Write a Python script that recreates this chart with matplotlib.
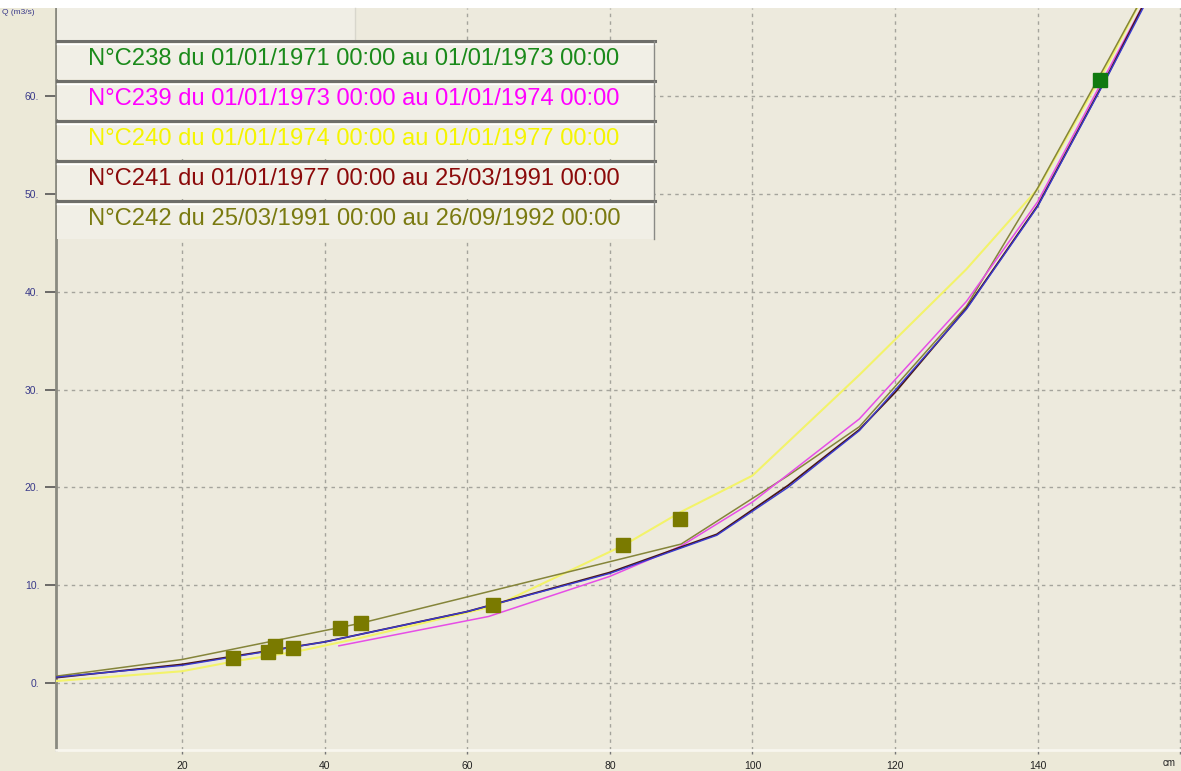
import matplotlib
matplotlib.use('Agg')
import matplotlib.pyplot as plt
from matplotlib.patches import Rectangle
from matplotlib.lines import Line2D

# rating curves: stage (cm) -> discharge Q (m3/s)
h_c238 = [2.4, 20, 40, 60, 80, 95, 105, 115, 130, 140, 150, 155.5]
q_c238 = [0.6, 1.8, 4.2, 7.3, 11.2, 15.1, 20.0, 25.8, 38.2, 48.7, 62.3, 70.0]

h_c239 = [42, 63, 80, 90, 100, 115, 130, 140, 150, 155.3]
q_c239 = [3.8, 6.8, 10.9, 14.0, 18.5, 27.0, 39.0, 49.2, 62.8, 70.0]

h_c240 = [2.4, 20, 28, 36, 45, 64, 82, 90, 100, 115, 130, 140, 150, 155]
q_c240 = [0.2, 1.2, 2.3, 3.2, 4.6, 7.9, 14.1, 17.5, 21.2, 31.5, 42.3, 50.5, 63.5, 70.5]

h_c241 = [2.4, 20, 40, 60, 80, 95, 105, 115, 120, 130, 140, 150, 155.3]
q_c241 = [0.55, 1.9, 4.2, 7.3, 11.3, 15.2, 20.2, 25.9, 29.7, 38.3, 48.8, 62.4, 70.0]

h_c242 = [2.4, 20, 45, 90, 105, 115, 130, 140, 150, 155]
q_c242 = [0.7, 2.4, 6.1, 14.2, 21.2, 26.2, 38.5, 50.6, 63.8, 70.5]

# gaugings
gauge_h = [27.1, 32.0, 33.0, 35.5, 42.1, 45.1, 63.6, 81.9, 89.9]
gauge_q = [2.56, 3.2, 3.8, 3.6, 5.6, 6.1, 8.0, 14.1, 16.8]
gauge_h_c238 = [148.7]
gauge_q_c238 = [61.6]

legend_labels = [
    'N°C238 du 01/01/1971 00:00 au 01/01/1973 00:00',
    'N°C239 du 01/01/1973 00:00 au 01/01/1974 00:00',
    'N°C240 du 01/01/1974 00:00 au 01/01/1977 00:00',
    'N°C241 du 01/01/1977 00:00 au 25/03/1991 00:00',
    'N°C242 du 25/03/1991 00:00 au 26/09/1992 00:00',
]
legend_colors = ['#1a8a1a', '#ff00ff', '#f5f500', '#8b0a0a', '#7a7a10']

xticks = [20, 40, 60, 80, 100, 120, 140, 160]
yticks = [0, 10, 20, 30, 40, 50, 60]

W, H = 1181, 771
BG = '#ece9d8'
FONT = ['Liberation Sans', 'DejaVu Sans']


def fx(x):
    return x / W


def fy(y):
    return 1 - y / H


fig = plt.figure(figsize=(W / 100, H / 100), dpi=100, facecolor=BG)
ax = fig.add_axes([fx(56), fy(750), fx(W - 56), (750 - 8) / H])
ax.set_facecolor('#edeadd')
ax.set_xlim(2.33, 160.1)
ax.set_ylim(-6.85, 69.0)

ax.grid(True, color='#a5a49c', linestyle=(0, (2.5, 3)), linewidth=1.0)
ax.set_axisbelow(True)
ax.set_xticks(xticks)
ax.set_yticks(yticks)
ax.set_xticklabels([str(t) if t < 160 else '' for t in xticks])
ax.set_yticklabels([f'{t}.' for t in yticks])
ax.tick_params(axis='y', direction='out', length=8, width=1.2, color='#555555',
               labelsize=7.5, labelcolor='#3a3a8a', pad=4)
ax.tick_params(axis='x', direction='out', length=3, width=1.0, color='#777777',
               labelsize=7.5, labelcolor='#222222', pad=5)
for lab in ax.get_xticklabels() + ax.get_yticklabels():
    lab.set_family(FONT)
for s in ['top', 'right']:
    ax.spines[s].set_visible(False)
ax.spines['left'].set_color('#8a8a80')
ax.spines['left'].set_linewidth(2)
ax.spines['bottom'].set_color('#f8f6ee')
ax.spines['bottom'].set_linewidth(2)

# curves
ax.plot(h_c240, q_c240, color='#f3f36a', lw=1.5, zorder=3)
ax.plot(h_c242, q_c242, color='#85853a', lw=1.1, zorder=3)
ax.plot(h_c239, q_c239, color='#e64ee6', lw=1.1, zorder=4)
ax.plot(h_c241, q_c241, color='#4a1818', lw=1.3, zorder=4)
ax.plot(h_c238, q_c238, color='#3a3ad0', lw=1.0, zorder=5)

ax.plot(gauge_h, gauge_q, 's', color='#7a7a00', ms=10, zorder=6)
ax.plot(gauge_h_c238, gauge_q_c238, 's', color='#107a10', ms=10, zorder=6)

# white strip above the plot
fig.patches.append(Rectangle((0, fy(8)), 1, 8 / H, transform=fig.transFigure,
                             facecolor='white', edgecolor='none', zorder=0))

# legend panel
fig.patches.append(Rectangle((fx(57), fy(40)), fx(355 - 57), 32 / H,
                             transform=fig.transFigure, facecolor='#f0eee5',
                             edgecolor='none', zorder=5))
fig.lines.append(Line2D([fx(355), fx(355)], [fy(40), fy(8)], transform=fig.transFigure,
                        color='#d8d6cc', lw=1, zorder=6))
row_top = [41, 81, 121, 161, 201]
renderer = fig.canvas.get_renderer()
for i, (lab, col) in enumerate(zip(legend_labels, legend_colors)):
    y0 = row_top[i]
    y1 = y0 + 38
    fig.patches.append(Rectangle((fx(57), fy(y1)), fx(655 - 57), (y1 - y0) / H,
                                 transform=fig.transFigure, facecolor='#f1efe6',
                                 edgecolor='none', zorder=5))
    fig.lines.append(Line2D([fx(57), fx(655)], [fy(y0), fy(y0)], transform=fig.transFigure,
                            color='#6e6e6a', lw=2.2, zorder=6))
    fig.lines.append(Line2D([fx(57), fx(655)], [fy(y0 + 2.5), fy(y0 + 2.5)],
                            transform=fig.transFigure, color='#ffffff', lw=1, zorder=6))
    fig.lines.append(Line2D([fx(654), fx(654)], [fy(y1), fy(y0)], transform=fig.transFigure,
                            color='#8a8a86', lw=1, zorder=6))
    t = fig.text(fx(88), fy(y0 + 18), lab, color=col, fontsize=16, family=FONT,
                 va='center', ha='left', zorder=7)
    # size the label so it spans x=88..622
    w = t.get_window_extent(renderer).width
    t.set_fontsize(16 * 534 / w)

fig.text(fx(2), fy(13), 'Q (m3/s)', color='#3a3a8a', fontsize=6, family=FONT,
         va='center', ha='left')
fig.text(fx(1163), fy(763), 'cm', color='#222222', fontsize=7, family=FONT,
         va='center', ha='left')

fig.savefig('out.png', dpi=100, facecolor=BG)
